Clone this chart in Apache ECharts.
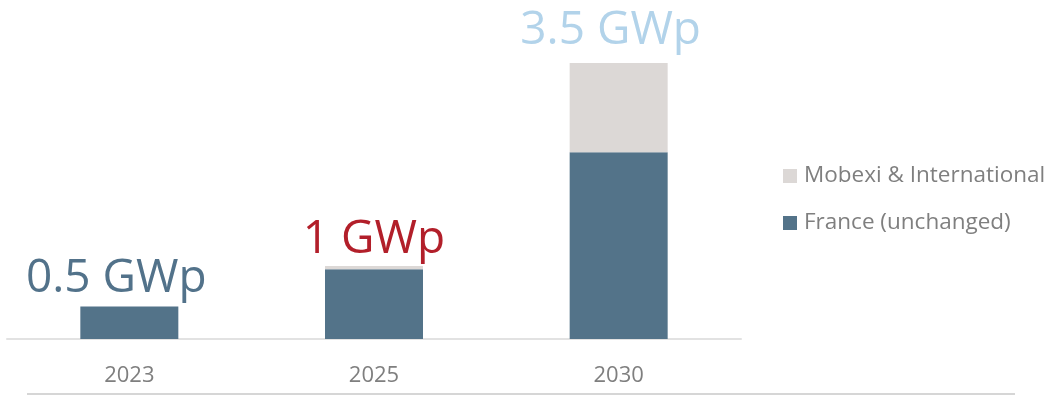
<!DOCTYPE html>
<html>
<head>
<meta charset="utf-8">
<title>Capacity GWp</title>
<script src="https://cdn.jsdelivr.net/npm/echarts@6/dist/echarts.min.js"></script>
<style>
  html, body { margin: 0; padding: 0; background: #ffffff; }
  #chart { width: 1051px; height: 395px; }
</style>
</head>
<body>
<div id="chart"></div>
<script>
// Installed capacity by year, in GWp
const categories = ['2023', '2025', '2030'];
const franceValues = [0.5, 0.96, 2.4];
const mobexiValues = [0, 0.04, 1.1];
const totalLabels = ['0.5 GWp', '1 GWp', '3.5 GWp'];
const seriesNames = ['Mobexi & International', 'France (unchanged)'];

const labelColors = ['#52728A', '#B21F2A', '#B2D3EA'];
const labelShift = [[-13, 0], [0, 0], [-8, 0]];
const labelGap = [5, 3, 9];

const chart = echarts.init(document.getElementById('chart'));

const topData = mobexiValues.map((v, i) => ({
  value: v,
  label: {
    show: true,
    position: 'top',
    distance: labelGap[i],
    offset: labelShift[i],
    color: labelColors[i],
    formatter: totalLabels[i]
  }
}));

chart.setOption({
  animation: false,
  textStyle: { fontFamily: '"Open Sans", "Noto Sans", sans-serif' },
  grid: { left: 7, right: 310, top: 63, height: 276 },
  legend: {
    data: seriesNames,
    orient: 'vertical',
    left: 783,
    top: 164,
    padding: 0,
    icon: 'rect',
    itemWidth: 14,
    itemHeight: 14,
    itemGap: 23,
    textStyle: { fontSize: 22.5, color: '#7F7F7F', lineHeight: 24, padding: [0, 0, 0, 2] }
  },
  xAxis: {
    type: 'category',
    data: categories,
    axisLine: { lineStyle: { color: '#E2E2E2', width: 2 } },
    axisTick: { show: false },
    axisLabel: { fontSize: 22, color: '#7F7F7F', margin: 26 }
  },
  yAxis: {
    type: 'value',
    min: 0.1,
    max: 3.5,
    show: false,
    splitLine: { show: false }
  },
  series: [
    {
      name: seriesNames[1],
      type: 'bar',
      stack: 'total',
      barWidth: 98,
      data: franceValues,
      itemStyle: { color: '#537389' }
    },
    {
      name: seriesNames[0],
      type: 'bar',
      stack: 'total',
      barWidth: 98,
      data: topData,
      itemStyle: { color: '#DCD8D6' },
      label: { fontSize: 46 }
    }
  ],
  graphic: [{
    type: 'line',
    shape: { x1: 27, y1: 394, x2: 1015, y2: 394 },
    style: { stroke: '#C8C8C8', lineWidth: 1.5 },
    silent: true
  }]
});
</script>
</body>
</html>
